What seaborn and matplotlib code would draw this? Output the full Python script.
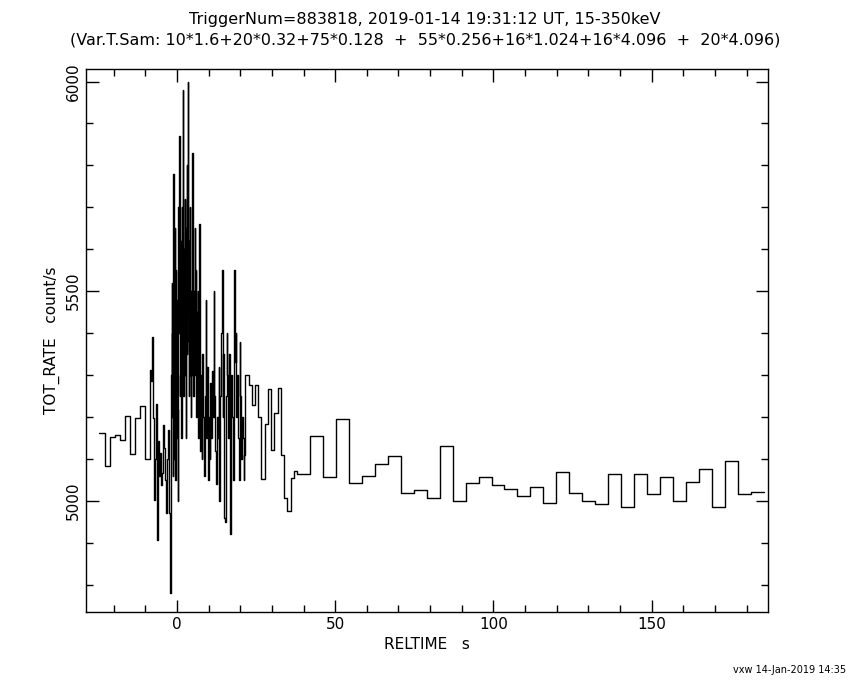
import numpy as np
import pandas as pd
import matplotlib
matplotlib.use("Agg")
import matplotlib.pyplot as plt
import seaborn as sns
from matplotlib.ticker import MultipleLocator

# bin widths (s) for each sampling segment and the rates
t_start = -24.5
seg_dt = [1.6, 0.32, 0.128, 0.256, 1.024, 4.096]

rate_a = [5161, 5084, 5153, 5156, 5144, 5202, 5112, 5197, 5226, 5101]
rate_b = [5311, 5285, 5391, 5197, 5002, 5100, 5230, 4906, 5142, 5060,
          5115, 5037, 5066, 5180, 5126, 5050, 4970, 5100, 5170, 4970]
rate_c = [4780, 5050, 5300, 5520, 5200, 5400, 5060, 5780, 5100, 5450,
          5250, 5650, 5050, 5550, 5300, 5150, 5480, 5220, 5560, 5000,
          5700, 5400, 5870, 5250, 5500, 5300, 5620, 5150, 5450, 5700,
          5350, 5980, 5250, 5600, 5400, 5720, 5300, 5500, 5150, 5650,
          5800, 5350, 5550, 6000, 5450, 5250, 5620, 5380, 5700, 5300,
          5500, 5200, 5450, 5300, 5830, 5400, 5600, 5250, 5500, 5350,
          5650, 5400, 5300, 5550, 5200, 5450, 5350, 5280, 5500, 5150,
          5350, 5660, 5250, 5400, 5120]
rate_d = [5300, 5100, 5350, 5200, 5060, 5250, 5480, 5150, 5320, 5050,
          5200, 5100, 5280, 5150, 5310, 5200, 5500, 5250, 5120, 5040,
          5200, 5150, 5320, 5000, 5250, 5400, 5550, 5200, 5350, 4960,
          4950, 5250, 5400, 5300, 5150, 5350, 4920, 5100, 5300, 5200,
          5050, 5550, 5330, 5400, 5200, 5300, 5150, 5050, 5380, 5250,
          5100, 5200, 5150, 5050, 5110]
rate_e = [5300, 5277, 5228, 5277, 5200, 5053, 5183, 5266, 5122, 5210,
          5268, 5110, 5008, 4976, 5055, 5071]
rate_f = [5065, 5155, 5057, 5195, 5042, 5060, 5089, 5106, 5019, 5026,
          5007, 5132, 5000, 5042, 5057, 5038, 5028, 5012, 5033, 4995,
          5068, 5019, 5000, 4993, 5063, 4986, 5063, 5016, 5056, 5000,
          5045, 5075, 4986, 5094, 5016, 5021]

segments = [rate_a, rate_b, rate_c, rate_d, rate_e, rate_f]
times, rates = [], []
t = t_start
for dt, vals in zip(seg_dt, segments):
    for v in vals:
        times.append(t)
        rates.append(v)
        t += dt
times.append(t)
rates.append(rates[-1])
df = pd.DataFrame({"RELTIME": times, "TOT_RATE": rates})

sns.set_style("ticks")
plt.rcParams["font.family"] = ["DejaVu Sans"]
plt.rcParams["text.color"] = "black"
plt.rcParams["axes.labelcolor"] = "black"

fig = plt.figure(figsize=(8.5, 6.8), dpi=100)
ax = fig.add_axes([0.101, 0.10, 0.803, 0.798])
sns.lineplot(data=df, x="RELTIME", y="TOT_RATE", drawstyle="steps-post",
             estimator=None, color="black", linewidth=1.0, ax=ax)

ax.set_xlim(-28.8, 186.9)
ax.set_ylim(4735, 6029)
ax.xaxis.set_major_locator(MultipleLocator(50))
ax.xaxis.set_minor_locator(MultipleLocator(10))
ax.yaxis.set_major_locator(MultipleLocator(500))
ax.yaxis.set_minor_locator(MultipleLocator(100))
ax.tick_params(which="both", direction="in", top=True, right=True, color="black")
ax.tick_params(which="major", length=9, width=1)
ax.tick_params(which="minor", length=5, width=1)
ax.tick_params(labelsize=11, colors="black")
for lab in ax.get_yticklabels():
    lab.set_rotation(90)
    lab.set_va("center")
for s in ax.spines.values():
    s.set_color("black")
    s.set_linewidth(1)

ax.set_xlabel("RELTIME   s", fontsize=11)
ax.set_ylabel("TOT_RATE   count/s", fontsize=11)

fig.text(0.5, 0.982, "TriggerNum=883818, 2019-01-14 19:31:12 UT, 15-350keV",
         ha="center", va="top", fontsize=11.5)
fig.text(0.5, 0.952, "(Var.T.Sam: 10*1.6+20*0.32+75*0.128  +  55*0.256+16*1.024+16*4.096  +  20*4.096)",
         ha="center", va="top", fontsize=11.5)
fig.text(0.995, 0.008, "vxw 14-Jan-2019 14:35", ha="right", va="bottom", fontsize=7)

fig.savefig("out.png", dpi=100, facecolor="white")
